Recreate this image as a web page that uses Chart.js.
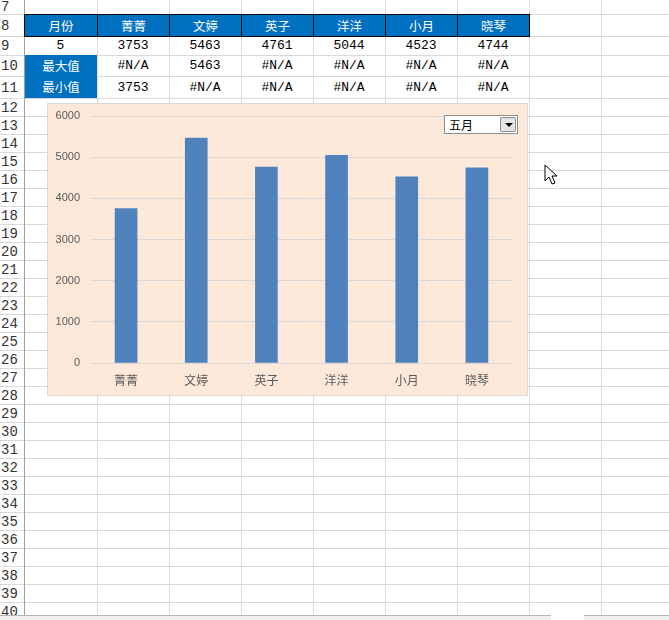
<!DOCTYPE html>
<html>
<head>
<meta charset="utf-8">
<script src="https://cdn.jsdelivr.net/npm/chart.js@4/dist/chart.umd.min.js"></script>
<style>
  body { margin: 0; width: 669px; height: 620px; overflow: hidden; background: #fff; position: relative; }
  .ln { position: absolute; background: #D9D9D9; }
  .cell { position: absolute; text-align: center; box-sizing: border-box; white-space: nowrap; }
  .num { font-family: "Liberation Mono", monospace; font-size: 13px; color: #000; }
  .cjk { font-family: "Noto Sans CJK SC", sans-serif; font-size: 12.5px; color: #fff; }
  .rowno { position: absolute; left: 1px; font-family: "Liberation Mono", monospace; font-size: 14px; color: #333; }
  #chartBox { position: absolute; left: 47px; top: 103px; width: 481px; height: 293px; box-sizing: border-box;
    border: 1px solid #D9D9D9; background: #FDE9D9; }
  #chart { position: absolute; left: 0; top: 0; }
  #combo { position: absolute; left: 444px; top: 115px; width: 74px; height: 19px; box-sizing: border-box;
    border: 1px solid #8C8C8C; background: #fff; font-family: "Noto Sans CJK SC", sans-serif; font-size: 12px;
    line-height: 17px; padding-left: 4px; color: #000; }
  #combo .btn { position: absolute; right: 1px; top: 1px; width: 16px; height: 15px; box-sizing: border-box;
    border: 1px solid #8C8C8C; background: #E4E4E4; border-radius: 2px; }
  #combo .btn:after { content: ""; position: absolute; left: 4px; top: 5px; border-left: 4px solid transparent;
    border-right: 4px solid transparent; border-top: 4px solid #000; }
  .tabs { position: absolute; top: 615px; height: 5px; background: #F0F0F0; border-top: 1px solid #B5B5B5; }
</style>
</head>
<body>
<div id="sheet"></div>
<div id="chartBox"><canvas id="chart" width="479" height="291"></canvas></div>
<div id="combo">五月<div class="btn"></div></div>
<svg style="position:absolute;left:544px;top:164px" width="16" height="22">
  <path d="M1 1 L1 17 L5 13 L8 20 L11 19 L8 12 L13 12 Z" fill="#fff" stroke="#000" stroke-width="1"/>
</svg>
<div class="tabs" style="left:0;width:551px"></div>
<div class="tabs" style="left:584px;width:85px"></div>
<script>
// table / chart data
const headerLabel = '月份';
const names = ['菁菁', '文婷', '英子', '洋洋', '小月', '晓琴'];
const month = 5;
const sales = [3753, 5463, 4761, 5044, 4523, 4744];
const maxRow = ['#N/A', 5463, '#N/A', '#N/A', '#N/A', '#N/A'];
const minRow = [3753, '#N/A', '#N/A', '#N/A', '#N/A', '#N/A'];
const yTicks = [0, 1000, 2000, 3000, 4000, 5000, 6000];

// sheet grid
const colX = [24, 97, 169, 241, 313, 385, 457, 529, 601, 673];
const rowY = [-4, 14, 36, 55, 76, 98];
for (let i = 1; i <= 29; i++) rowY.push(98 + i * 18);
const sheet = document.getElementById('sheet');

function add(cls, css, text) {
    let d = document.createElement('div');
    d.className = cls;
    d.style.cssText = css;
    if (text !== undefined) d.textContent = text;
    sheet.appendChild(d);
    return d;
}

rowY.forEach(y => add('ln', `left:0;top:${y}px;width:669px;height:1px`));
colX.forEach(x => add('ln', `left:${x}px;top:0;width:1px;height:615px`));
add('ln', 'left:24px;top:0;width:1px;height:615px;background:#A0A0A0');

for (let i = 0; i < rowY.length - 1; i++) {
    let top = rowY[i], h = rowY[i + 1] - rowY[i];
    let d = add('rowno', `top:${top}px;height:${h}px;line-height:${h + 2}px`, String(7 + i));
    if (i === 0) d.style.cssText += ';top:0px;height:14px;line-height:14px';
}

// header row 8
const blue = '#0070C0';
const hdr = [headerLabel].concat(names);
hdr.forEach((t, i) => {
    add('cell cjk', `left:${colX[i]}px;top:14px;width:${colX[i + 1] - colX[i] + 1}px;height:23px;line-height:21px;background:${blue};border:1px solid #000`, t);
});
// row 9
add('cell num', `left:${colX[0]}px;top:37px;width:73px;height:18px;line-height:18px`, String(month));
sales.forEach((v, i) => add('cell num', `left:${colX[i + 1]}px;top:37px;width:72px;height:18px;line-height:18px`, String(v)));
// rows 10 & 11
add('cell cjk', `left:25px;top:55px;width:72px;height:43px;background:${blue}`);
add('cell cjk', `left:25px;top:55px;width:72px;height:21px;line-height:21px`, '最大值');
add('cell cjk', `left:25px;top:76px;width:72px;height:22px;line-height:22px`, '最小值');
maxRow.forEach((v, i) => add('cell num', `left:${colX[i + 1]}px;top:56px;width:72px;height:20px;line-height:20px`, String(v)));
minRow.forEach((v, i) => add('cell num', `left:${colX[i + 1]}px;top:77px;width:72px;height:21px;line-height:21px`, String(v)));

// chart
new Chart(document.getElementById('chart'), {
    type: 'bar',
    data: {
        labels: names,
        datasets: [{
            data: sales,
            backgroundColor: '#4F81BD',
            barThickness: 22
        }]
    },
    options: {
        responsive: false,
        animation: false,
        layout: { padding: { top: 12, right: 15, left: 0, bottom: 0 } },
        plugins: { legend: { display: false }, tooltip: { enabled: false } },
        scales: {
            x: {
                grid: { display: false, drawTicks: false },
                border: { color: '#D9D9D9' },
                ticks: { color: '#595959', padding: 10, font: { family: 'Noto Sans CJK SC', size: 12 } },
                afterFit: s => { s.height = 32 }
            },
            y: {
                min: 0, max: 6000,
                afterBuildTicks: s => { s.ticks = yTicks.map(v => ({ value: v })) },
                grid: { color: '#D9D9D9', drawTicks: false },
                border: { display: false },
                ticks: { color: '#595959', padding: 11, font: { family: 'Liberation Sans', size: 11 },
                    callback: v => String(v) },
                afterFit: s => { s.width = 43; s.paddingTop = 0; s.paddingBottom = 0 }
            }
        }
    }
});
</script>
</body>
</html>
